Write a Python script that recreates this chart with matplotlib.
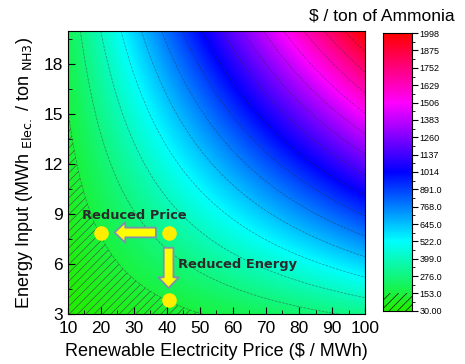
"""cost of ammonia vs renewable electricity price and energy input"""
import numpy as np
import matplotlib
matplotlib.use("Agg")
import matplotlib.pyplot as plt
from matplotlib.colors import LinearSegmentedColormap, Normalize
from matplotlib.ticker import MultipleLocator

plt.rcParams['font.family'] = ['Liberation Sans', 'DejaVu Sans']
plt.rcParams['hatch.linewidth'] = 0.45
plt.rcParams['hatch.color'] = '#3a5a3a'

# axes ranges
price_range = [10, 100]     # $ / MWh
energy_range = [3, 20]      # MWh / ton NH3

# contour levels
levels = [30, 153, 276, 399, 522, 645, 768, 891, 1014, 1137,
          1260, 1383, 1506, 1629, 1752, 1875, 1998]
level_labels = ['30.00', '153.0', '276.0', '399.0', '522.0', '645.0', '768.0',
                '891.0', '1014', '1137', '1260', '1383', '1506', '1629',
                '1752', '1875', '1998']

# marked cases
point_price = [20, 40.5, 40.5]
point_energy = [7.9, 7.9, 3.85]

cmap = LinearSegmentedColormap.from_list(
    'ammonia', ['#22ee00', '#00ffff', '#0000ff', '#ff00ff', '#ff0000'])

price = np.linspace(price_range[0], price_range[1], 300)
energy = np.linspace(energy_range[0], energy_range[1], 300)
P, E = np.meshgrid(price, energy)
cost = P * E   # $ / ton = $/MWh * MWh/ton

fig = plt.figure(figsize=(4.65, 3.64), dpi=100)
ax = fig.add_axes([0.146, 0.137, 0.639, 0.778])
norm = Normalize(vmin=levels[0], vmax=levels[-1])
ax.pcolormesh(P, E, cost, cmap=cmap, norm=norm, shading='gouraud')
ax.contour(P, E, cost, levels=levels[1:-1], colors='#303030',
           linewidths=0.5, linestyles='--', alpha=0.5)
ax.contourf(P, E, cost, levels=[levels[0], levels[1]], colors='none',
            hatches=['////'])

ax.set_xlim(price_range)
ax.set_ylim(energy_range)
ax.xaxis.set_major_locator(MultipleLocator(10))
ax.xaxis.set_minor_locator(MultipleLocator(5))
ax.yaxis.set_major_locator(MultipleLocator(3))
ax.yaxis.set_minor_locator(MultipleLocator(1.5))
ax.set_yticks([3, 6, 9, 12, 15, 18])
ax.tick_params(which='both', direction='in', top=False, right=False,
               labelsize=12.5)
ax.tick_params(which='major', length=5)
ax.tick_params(which='minor', length=3)
ax.tick_params(axis='x', pad=5)
ax.set_xlabel('Renewable Electricity Price ($ / MWh)', fontsize=13, labelpad=5)
ax.set_ylabel(r'Energy Input (MWh $_{\mathrm{Elec.}}$ / ton $_{\mathrm{NH3}}$)',
              fontsize=13, labelpad=6)

# markers and arrows
ax.plot(point_price, point_energy, 'o', color='#ffee00', markersize=10.5,
        markeredgewidth=0, zorder=5)
arrow_style = 'simple,head_length=0.55,head_width=1.05,tail_width=0.5'
ax.annotate('', xy=(point_price[0] + 3.3, point_energy[0]),
            xytext=(point_price[1] - 3.0, point_energy[1]),
            arrowprops=dict(arrowstyle=arrow_style, mutation_scale=14,
                            fc='#ffff00', ec='#8090b0', lw=1.3), zorder=4)
ax.annotate('', xy=(point_price[2], point_energy[2] + 0.55),
            xytext=(point_price[1], point_energy[1] - 0.75),
            arrowprops=dict(arrowstyle=arrow_style, mutation_scale=14,
                            fc='#ffff00', ec='#8090b0', lw=1.3), zorder=4)
ax.text(14.3, 8.95, 'Reduced Price', fontsize=9.4, fontweight='bold',
        family='DejaVu Sans', color='#2a2a2a', va='center')
ax.text(43.3, 6.0, 'Reduced Energy', fontsize=9.4, fontweight='bold',
        family='DejaVu Sans', color='#2a2a2a', va='center')

# colour bar
cax = fig.add_axes([0.824, 0.146, 0.062, 0.763])
grad = np.linspace(levels[0], levels[-1], 400).reshape(-1, 1)
cax.imshow(grad, cmap=cmap, norm=norm, aspect='auto', origin='lower',
           extent=[0, 1, levels[0], levels[-1]])
cax.fill_between([0, 1], levels[0], levels[1], facecolor='none',
                 hatch='////', linewidth=0)
cax.set_xlim(0, 1)
cax.set_ylim(levels[0], levels[-1])
cax.set_xticks([])
cax.yaxis.tick_right()
cax.set_yticks(levels)
cax.set_yticklabels(level_labels)
minor = [(a + b) / 2 for a, b in zip(levels[:-1], levels[1:])]
cax.set_yticks(minor, minor=True)
cax.tick_params(axis='y', which='major', direction='out', length=4,
                labelsize=6.5, pad=1.5)
cax.tick_params(axis='y', which='minor', direction='out', length=2)

fig.text(0.822, 0.957, '$ / ton of Ammonia', fontsize=12.5, ha='center',
         va='center')

fig.savefig('out.png', dpi=100)
